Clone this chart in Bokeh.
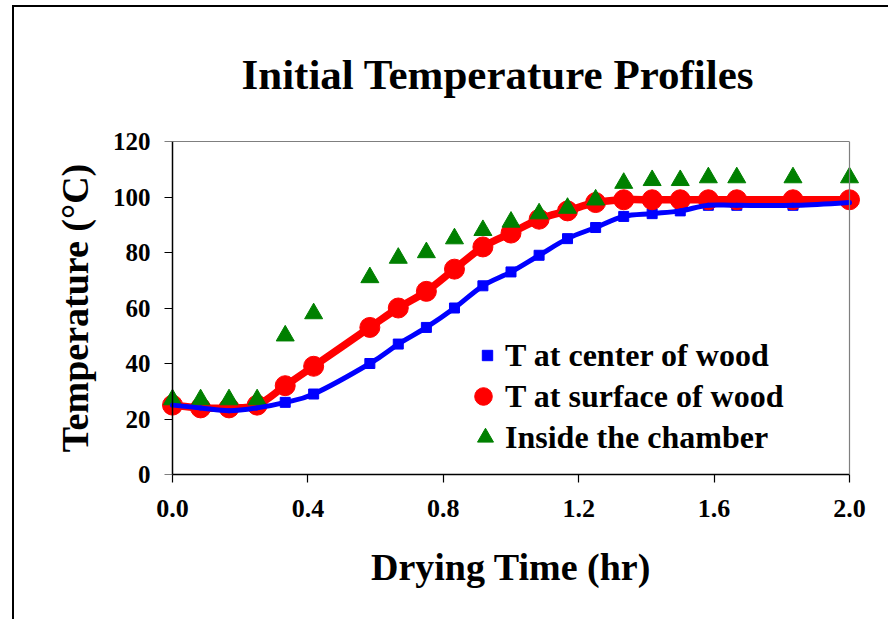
import numpy as np
from bokeh.plotting import figure
from bokeh.models import (Range1d, LinearAxis, FixedTicker, Legend, LegendItem,
                          NumeralTickFormatter)
from bokeh.embed import file_html
from bokeh.resources import INLINE

# Drying time (hr) and measured temperatures (deg C)
times = [0.0, 0.083, 0.167, 0.25, 0.333, 0.417, 0.583, 0.667, 0.75, 0.833, 0.917,
         1.0, 1.083, 1.167, 1.25, 1.333, 1.417, 1.5, 1.583, 1.667, 1.833, 2.0]
t_center = [25, 24, 23, 24, 26, 29, 40, 47, 53, 60, 68,
            73, 79, 85, 89, 93, 94, 95, 97, 97, 97, 98]
t_surface = [25, 24, 24, 25, 32, 39, 53, 60, 66, 74, 82,
             87, 92, 95, 98, 99, 99, 99, 99, 99, 99, 99]
t_chamber = [27, 27, 27, 27, 50, 58, 71, 78, 80, 85, 88,
             91, 94, 96, 99, 105, 106, 106, 107, 107, 107, 107]

x_ticks = [0.0, 0.4, 0.8, 1.2, 1.6, 2.0]
y_ticks = [0, 20, 40, 60, 80, 100, 120]
labels = ["T at center of wood", "T at surface of wood", "Inside the chamber"]
title_text = "Initial Temperature Profiles"

FONT = "Liberation Serif"
X_MIN, X_MAX = 0.0, 2.0
PAD = 17 / 338.5  # room so edge markers are not cut off


def smooth(xs, ys):
    """Cubic Bezier segments (Catmull-Rom style) through the points."""
    x = np.asarray(xs, float)
    y = np.asarray(ys, float)
    xp = np.concatenate([[x[0]], x, [x[-1]]])
    yp = np.concatenate([[y[0]], y, [y[-1]]])
    n = len(x)
    seg = dict(x0=x[:-1], y0=y[:-1], x1=x[1:], y1=y[1:])
    seg["cx0"] = x[:-1] + (xp[2:n + 1] - xp[0:n - 1]) / 6
    seg["cy0"] = y[:-1] + (yp[2:n + 1] - yp[0:n - 1]) / 6
    seg["cx1"] = x[1:] - (xp[3:n + 2] - xp[1:n]) / 6
    seg["cy1"] = y[1:] - (yp[3:n + 2] - yp[1:n]) / 6
    return seg


p = figure(width=876, height=614,
           x_range=Range1d(X_MIN - PAD, X_MAX + PAD), y_range=Range1d(0, 120),
           x_axis_location=None, y_axis_location=None,
           output_backend="svg", toolbar_location=None,
           min_border_left=141, min_border_right=24,
           min_border_top=134, min_border_bottom=147,
           title=title_text)
p.outline_line_color = None
p.background_fill_color = "white"
p.border_fill_color = "white"
p.styles = {"margin-left": "12px", "margin-top": "5px",
            "border-left": "2px solid #000", "border-top": "2px solid #000"}

FRAME_LEFT, FRAME_BOTTOM = 155, 474   # page position of the plotting frame

p.title.align = "left"
p.title.vertical_align = "top"
p.title.offset = 241 - FRAME_LEFT
p.title.standoff = 83
p.title.text_font = FONT
p.title.text_font_style = "bold"
p.title.text_font_size = "43px"
p.title.text_color = "black"


def style_axis(ax, label_size):
    ax.axis_line_color = "black"
    ax.axis_line_width = 1.5
    ax.major_tick_line_color = "black"
    ax.major_tick_line_width = 1.2
    ax.major_tick_out = 8
    ax.major_tick_in = 0
    ax.minor_tick_line_color = None
    ax.major_label_text_font = FONT
    ax.major_label_text_font_style = "bold"
    ax.major_label_text_font_size = label_size
    ax.major_label_text_color = "black"
    ax.axis_label_text_font = FONT
    ax.axis_label_text_font_style = "bold"
    ax.axis_label_text_font_size = "38px"
    ax.axis_label_text_color = "black"


xaxis = LinearAxis(ticker=FixedTicker(ticks=x_ticks),
                   formatter=NumeralTickFormatter(format="0.0"),
                   bounds=(X_MIN, X_MAX), axis_label="Drying Time (hr)")
style_axis(xaxis, "26px")
xaxis.major_label_standoff = 17
xaxis.axis_label_standoff = 26
p.add_layout(xaxis, "below")

# y-axis line and ticks sit at x = 0, inside the padded frame
yrule = LinearAxis(ticker=FixedTicker(ticks=y_ticks), fixed_location=X_MIN)
style_axis(yrule, "25px")
yrule.major_label_text_color = None
p.add_layout(yrule, "left")

# y-axis tick labels and title in the left panel
ylab = LinearAxis(ticker=FixedTicker(ticks=y_ticks),
                  axis_label="Temperature (\u00b0C)")
style_axis(ylab, "25px")
ylab.axis_line_color = None
ylab.major_tick_line_color = None
ylab.major_tick_out = 0
ylab.major_label_standoff = 5
ylab.axis_label_standoff = 14
p.add_layout(ylab, "left")

# grey top and right edges of the plotting area
top = LinearAxis(ticker=FixedTicker(ticks=[]), bounds=(X_MIN, X_MAX),
                 axis_line_color="#7f7f7f", axis_line_width=1.2,
                 major_label_text_font_size="0px")
p.add_layout(top, "above")
right = LinearAxis(ticker=FixedTicker(ticks=[]), fixed_location=X_MAX,
                   axis_line_color="#7f7f7f", axis_line_width=1.2,
                   major_label_text_font_size="0px")
p.add_layout(right, "right")

BLUE, RED, GREEN = "#0000ff", "#ff0000", "#008000"

r_center = p.scatter(times, t_center, marker="square", size=10,
                     fill_color=BLUE, line_color=BLUE)
p.bezier(**smooth(times, t_surface), line_color=RED, line_width=7.5,
         line_cap="round")
r_surface = p.scatter(times, t_surface, marker="circle", size=20,
                      fill_color=RED, line_color=RED)
r_chamber = p.scatter(times, t_chamber, marker="triangle", size=18,
                      fill_color=GREEN, line_color=GREEN)
p.bezier(**smooth(times, t_center), line_color=BLUE, line_width=5,
         line_cap="round")

# one legend per entry so each keeps its own marker size
TEXT_LEFT = 505
# (label, renderer, glyph left edge, row centre, glyph box width)
entries = [(labels[0], r_center, 474, 355, 26),
           (labels[1], r_surface, 461, 396, 44),
           (labels[2], r_chamber, 465, 437, 40)]
BOX_H = 50
for text, rend, gx, cy, w in entries:
    lg = Legend(items=[LegendItem(label=text, renderers=[rend])],
                location=(gx - FRAME_LEFT, FRAME_BOTTOM - cy - BOX_H // 2))
    lg.border_line_color = None
    lg.background_fill_alpha = 0
    lg.label_text_font = FONT
    lg.label_text_font_style = "bold"
    lg.label_text_font_size = "32px"
    lg.label_text_color = "black"
    lg.label_text_baseline = "middle"
    lg.glyph_width = w
    lg.glyph_height = BOX_H
    lg.label_height = BOX_H
    lg.label_standoff = max(0, TEXT_LEFT - (gx + w))
    lg.spacing = 0
    lg.padding = 0
    lg.margin = 0
    p.add_layout(lg)

for g in p.grid:
    g.visible = False

open("out.html", "w").write(file_html(p, INLINE))
